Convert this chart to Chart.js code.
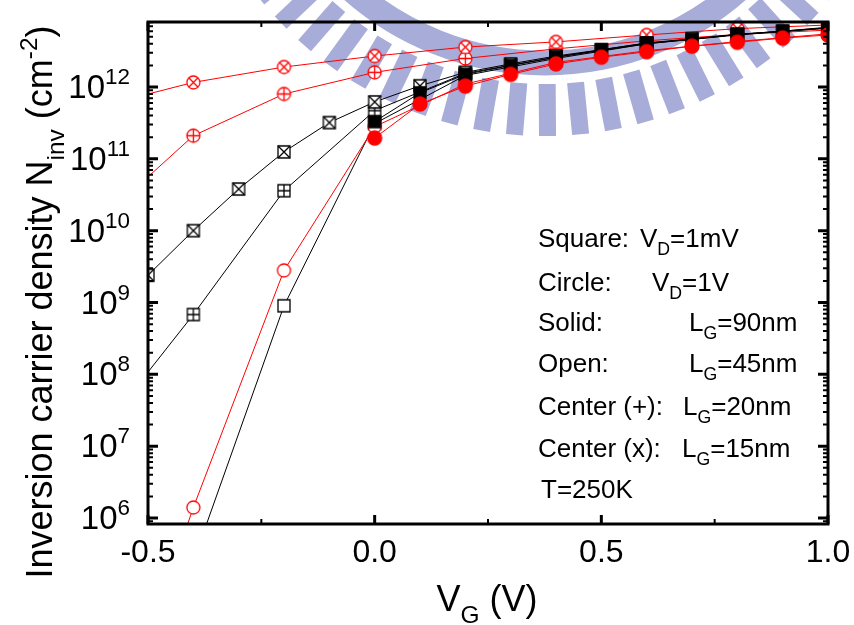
<!DOCTYPE html>
<html>
<head>
<meta charset="utf-8">
<script src="https://cdn.jsdelivr.net/npm/chart.js@4.4.1/dist/chart.umd.min.js"></script>
<style>
  html, body { margin: 0; padding: 0; background: #fff; }
</style>
</head>
<body>
<canvas id="nChart" width="854" height="625"></canvas>
<script>

// gate voltage steps used by the different runs
const vgPos    = [0.0, 0.1, 0.2, 0.3, 0.4, 0.5, 0.6, 0.7, 0.8, 0.9, 1.0]
const vgFine   = [-0.5, -0.4, -0.3, -0.2, -0.1, 0.0, 0.1, 0.2, 0.3, 0.4, 0.5, 0.6, 0.7, 0.8, 0.9, 1.0]
const vgCoarse = [-0.6, -0.4, -0.2, 0.0, 0.2, 0.4, 0.6, 0.8, 1.0]
const vgOpenSq = [-0.4, -0.2, 0.0, 0.2, 0.4, 0.6, 0.8, 1.0]

// Ninv (cm^-2)
// square = VD 1mV, circle = VD 1V
const sq90 = [3.3e11, 8.3e11, 1.5e12, 2.0e12, 2.6e12, 3.3e12, 4.1e12, 4.6e12, 5.4e12, 6.0e12, 6.8e12]
const ci90 = [1.95e11, 5.8e11, 1.03e12, 1.5e12, 2.1e12, 2.6e12, 3.1e12, 3.7e12, 4.2e12, 4.8e12, 5.3e12]
const sq45 = [2.5e5, 9e8, 3.1e11, 1.45e12, 2.5e12, 4.0e12, 5.3e12, 6.6e12]
const ci45 = [3e2, 1.4e6, 2.8e9, 2.8e11, 1.1e12, 2.2e12, 3.2e12, 4.3e12, 5.5e12]
const sq20 = [1.7e7, 6.8e8, 3.6e10, 4.7e11, 1.55e12, 2.6e12, 4.0e12, 5.4e12, 6.6e12]
const ci20 = [1.5e10, 2.1e11, 8e11, 1.6e12, 2.5e12, 3.4e12, 4.4e12, 5.4e12, 6.2e12]
const sq15 = [2.4e9, 1e10, 3.8e10, 1.25e11, 3.2e11, 6.2e11, 1.04e12, 1.6e12, 2.1e12, 2.7e12, 3.3e12, 4.1e12, 4.7e12, 5.4e12, 6.0e12, 6.7e12]
const ci15 = [5.5e11, 1.16e12, 1.9e12, 2.7e12, 3.6e12, 4.25e12, 5.3e12, 6.5e12, 7.3e12]

// axis ticks
const xMajor = [-0.5, 0.0, 0.5, 1.0]
const xMinor = [-0.25, 0.25, 0.75]
const yDecades = [6, 7, 8, 9, 10, 11, 12]

const noteLabels = ['Square:', 'Circle:', 'Solid:', 'Open:', 'Center (+):', 'Center (x):', 'T=250K']
const noteValues = [
  [['V', ''], ['D', 'sub'], ['=1mV', '']],
  [['V', ''], ['D', 'sub'], ['=1V', '']],
  [['L', ''], ['G', 'sub'], ['=90nm', '']],
  [['L', ''], ['G', 'sub'], ['=45nm', '']],
  [['L', ''], ['G', 'sub'], ['=20nm', '']],
  [['L', ''], ['G', 'sub'], ['=15nm', '']],
  []
]

const FONT = 'Arial, "Liberation Sans", sans-serif'

function pairs(xs, ys) {
  return xs.map((x, i) => ({ x: x, y: ys[i] }))
}

/// builds a small canvas used as the point symbol
function makeMarker(shape, filled, inner, color, size) {
  let c = document.createElement('canvas')
  c.width = c.height = size + 4
  let g = c.getContext('2d')
  let m = c.width / 2, r = size / 2
  g.lineWidth = 1.3
  g.strokeStyle = color
  g.fillStyle = filled ? color : '#fff'
  g.beginPath()
  if (shape == 'square') g.rect(m - r, m - r, size, size)
  else g.arc(m, m, r, 0, Math.PI * 2)
  g.fill()
  g.stroke()
  let d = shape == 'square' ? r : r * 0.72
  g.beginPath()
  if (inner == 'plus') {
    g.moveTo(m - r, m); g.lineTo(m + r, m)
    g.moveTo(m, m - r); g.lineTo(m, m + r)
  }
  if (inner == 'cross') {
    g.moveTo(m - d, m - d); g.lineTo(m + d, m + d)
    g.moveTo(m - d, m + d); g.lineTo(m + d, m - d)
  }
  g.stroke()
  return c
}

function series(label, xs, ys, color, marker) {
  return {
    label: label,
    data: pairs(xs, ys),
    borderColor: color,
    backgroundColor: color,
    borderWidth: 1,
    tension: 0,
    pointStyle: marker,
    pointRadius: 6,
    pointHoverRadius: 6
  }
}

function richText(ctx, parts, x, y, size, align) {
  let w = 0
  parts.forEach(p => {
    ctx.font = (p[1] ? size * 0.68 : size) + 'px ' + FONT
    w += ctx.measureText(p[0]).width
  })
  let cx = align == 'center' ? x - w / 2 : (align == 'right' ? x - w : x)
  parts.forEach(p => {
    let s = p[1] ? size * 0.68 : size
    ctx.font = s + 'px ' + FONT
    let dy = p[1] == 'sub' ? size * 0.32 : (p[1] == 'sup' ? -size * 0.42 : 0)
    ctx.fillText(p[0], cx, y + dy)
    cx += ctx.measureText(p[0]).width
  })
}

// faint university emblem printed behind the plot (only its lower part shows)
const watermarkPlugin = {
  id: 'watermark',
  beforeDatasetsDraw(chart) {
    const ctx = chart.ctx
    const cx = 545, cy = -229
    ctx.save()
    ctx.fillStyle = 'rgb(168,172,216)'
    ctx.strokeStyle = 'rgb(168,172,216)'
    // ring
    ctx.lineWidth = 25
    ctx.beginPath()
    ctx.arc(cx, cy, 292, 0, Math.PI)
    ctx.stroke()
    // teeth around the ring
    for (let deg = 22; deg <= 158; deg += 5.2) {
      let t = deg * Math.PI / 180
      ctx.save()
      ctx.translate(cx, cy)
      ctx.rotate(t)
      ctx.fillRect(313, -8.5, 52, 17)
      ctx.restore()
    }
    ctx.restore()
  }
}

const framePlugin = {
  id: 'frame',
  afterDraw(chart) {
    const ctx = chart.ctx
    const a = chart.chartArea
    const xs = chart.scales.x, ys = chart.scales.y
    ctx.save()
    ctx.fillStyle = '#000'
    ctx.strokeStyle = '#000'
    ctx.textAlign = 'left'
    ctx.textBaseline = 'alphabetic'

    // x ticks, bottom and top, pointing inwards
    ctx.lineCap = 'butt'
    xMajor.concat(xMinor).forEach(v => {
      let px = xs.getPixelForValue(v)
      let major = xMajor.includes(v)
      let len = major ? 9 : 5
      ctx.lineWidth = major ? 3 : 2
      ctx.beginPath()
      ctx.moveTo(px, a.bottom); ctx.lineTo(px, a.bottom - len)
      ctx.moveTo(px, a.top); ctx.lineTo(px, a.top + len)
      ctx.stroke()
    })
    // y ticks, left and right
    for (let dcd = 5; dcd <= 12; dcd++) {
      for (let k = 1; k <= 9; k++) {
        let v = k * Math.pow(10, dcd)
        if (v < ys.min || v > ys.max) continue
        let py = ys.getPixelForValue(v)
        let len = k == 1 ? 10 : 5
        ctx.lineWidth = k == 1 ? 3 : 2
        ctx.beginPath()
        ctx.moveTo(a.left, py); ctx.lineTo(a.left + len, py)
        ctx.moveTo(a.right, py); ctx.lineTo(a.right - len, py)
        ctx.stroke()
      }
    }
    // frame
    ctx.lineWidth = 3
    ctx.strokeRect(a.left, a.top, a.right - a.left, a.bottom - a.top)

    // tick labels
    ctx.textAlign = 'center'
    ctx.font = '32px ' + FONT
    xMajor.forEach(v => {
      ctx.fillText(v.toFixed(1), xs.getPixelForValue(v), 562)
    })
    ctx.textAlign = 'left'
    yDecades.forEach(d => {
      let py = ys.getPixelForValue(Math.pow(10, d))
      richText(ctx, [['10', ''], [String(d), 'sup']], 130, py + 11, 33, 'right')
    })

    // axis titles
    richText(ctx, [['V', ''], ['G', 'sub'], [' (V)', '']], 487, 611, 36, 'center')
    ctx.save()
    ctx.translate(52, 302)
    ctx.rotate(-Math.PI / 2)
    richText(ctx, [['Inversion carrier density N', ''], ['inv', 'sub'], [' (cm', ''], ['-2', 'sup'], [')', '']], 0, 0, 36, 'center')
    ctx.restore()

    // notes inside the plot
    const valueX = [640, 652, 689, 689, 683, 682, 0]
    const baseY = [247, 291, 331, 372, 415, 457, 498]
    noteLabels.forEach((t, i) => {
      ctx.font = '26px ' + FONT
      ctx.fillText(t, i == 6 ? 541 : 538, baseY[i])
      if (noteValues[i].length) richText(ctx, noteValues[i], valueX[i], baseY[i], 26, 'left')
    })
    ctx.restore()
  }
}

const RED = '#ff0000', BLACK = '#000000'

new Chart(document.getElementById('nChart'), {
  type: 'line',
  data: {
    datasets: [
      series('ci90', vgPos, ci90, RED, makeMarker('circle', true, '', RED, 14)),
      series('sq90', vgPos, sq90, BLACK, makeMarker('square', true, '', BLACK, 12)),
      series('ci45', vgCoarse, ci45, RED, makeMarker('circle', false, '', RED, 13)),
      series('sq45', vgOpenSq, sq45, BLACK, makeMarker('square', false, '', BLACK, 12)),
      series('sq15', vgFine, sq15, BLACK, makeMarker('square', false, 'cross', BLACK, 12)),
      series('sq20', vgCoarse, sq20, BLACK, makeMarker('square', false, 'plus', BLACK, 12)),
      series('ci15', vgCoarse, ci15, RED, makeMarker('circle', false, 'cross', RED, 13)),
      series('ci20', vgCoarse, ci20, RED, makeMarker('circle', false, 'plus', RED, 13))
    ]
  },
  options: {
    responsive: false,
    animation: false,
    events: [],
    layout: { padding: { left: 148, right: 26, top: 22, bottom: 101 } },
    plugins: { legend: { display: false }, tooltip: { enabled: false } },
    scales: {
      x: { type: 'linear', min: -0.5, max: 1.0, display: false },
      y: { type: 'logarithmic', min: 8.25e5, max: 8.04e12, display: false }
    }
  },
  plugins: [watermarkPlugin, framePlugin]
})
</script>
</body>
</html>
